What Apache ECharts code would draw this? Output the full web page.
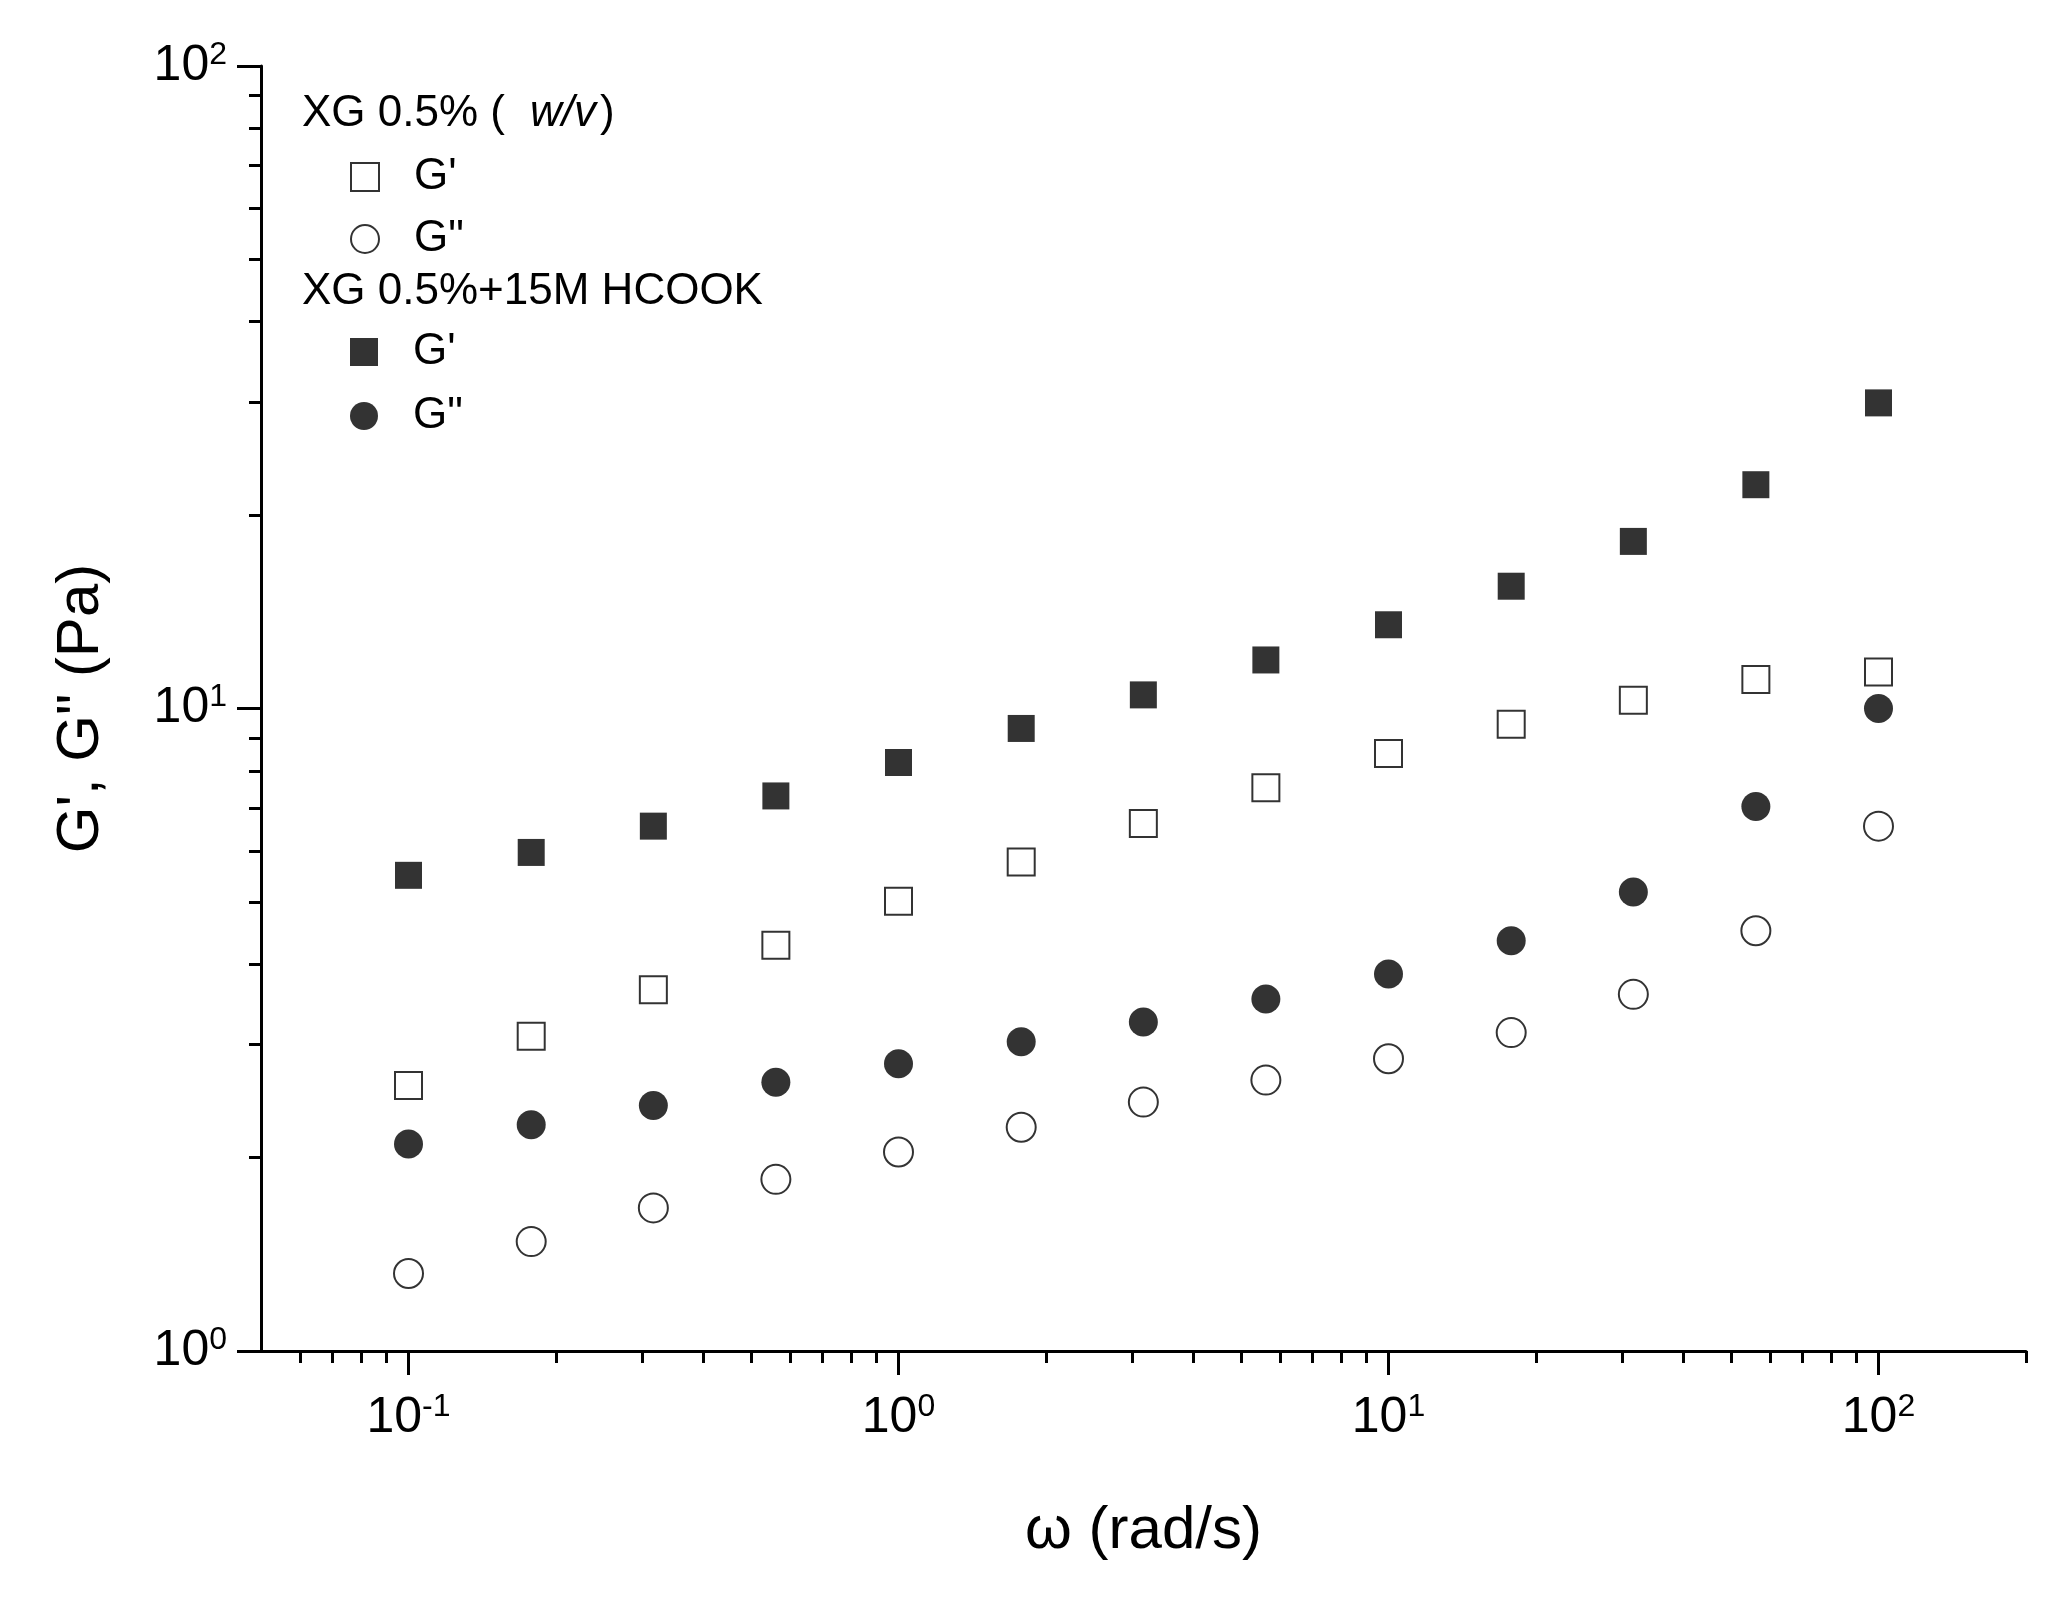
<!DOCTYPE html>
<html>
<head>
<meta charset="UTF-8">
<title></title>
<script src="https://cdn.jsdelivr.net/npm/echarts@6/dist/echarts.min.js"></script>
<style>html,body{margin:0;background:#fff}#main{width:2068px;height:1612px}</style>
</head>
<body>
<div id="main"></div>
<script type="text/javascript">
var omega = [0.1, 0.178, 0.316, 0.562, 1, 1.78, 3.16, 5.62, 10, 17.8, 31.6, 56.2, 100];
var xgG1 = [2.59, 3.09, 3.65, 4.28, 5.01, 5.77, 6.62, 7.53, 8.51, 9.45, 10.3, 11.1, 11.4];
var xgG2 = [1.32, 1.48, 1.67, 1.85, 2.04, 2.23, 2.44, 2.64, 2.85, 3.13, 3.59, 4.51, 6.56];
var saltG1 = [5.5, 5.97, 6.56, 7.31, 8.24, 9.31, 10.5, 11.9, 13.5, 15.5, 18.2, 22.3, 29.9];
var saltG2 = [2.10, 2.25, 2.41, 2.62, 2.80, 3.03, 3.25, 3.53, 3.86, 4.35, 5.18, 7.04, 10.0];
var xMajor = [0.1, 1, 10, 100];
var xMinor = [0.06,0.07,0.08,0.09,0.2,0.3,0.4,0.5,0.6,0.7,0.8,0.9,2,3,4,5,6,7,8,9,20,30,40,50,60,70,80,90,200];
var yMajor = [1, 10, 100];
var yMinor = [2,3,4,5,6,7,8,9,20,30,40,50,60,70,80,90];

function pairs(ys) { return omega.map(function (x, i) { return [x, ys[i]]; }); }
function expLabel(v) { return '10{sup|' + Math.round(Math.log10(v)) + '}'; }
var lblRich = { sup: { fontSize: 32, fontFamily: 'Liberation Sans', color: '#000', verticalAlign: 'top', padding: [0, 0, 22, 0] } };
var font = 'Liberation Sans';

var myChart = echarts.init(document.getElementById('main'));
var hollow = { color: '#fff', borderColor: '#000', borderWidth: 2 };
var solid = { color: '#000' };
function legendAt(name, top, textTop) {
    return {
        data: [name], left: 345, top: top, orient: 'vertical', itemWidth: 28, itemHeight: 28, itemGap: 10,
        textStyle: { fontSize: 44, fontFamily: font, color: '#000', padding: [0, 0, 0, 30] }
    };
}
myChart.setOption({
    animation: false,
    grid: { left: 261, right: 42, top: 66, bottom: 261 },
    legend: [
        legendAt('XG G\'', 150),
        legendAt('XG G"', 212),
        legendAt('HCOOK G\'', 325),
        legendAt('HCOOK G"', 389)
    ],
    graphic: [
        { type: 'text', left: 302, top: 92, style: { text: 'XG 0.5% (', font: '44px "Liberation Sans"', fill: '#000' } },
        { type: 'text', left: 530, top: 92, style: { text: 'w/v', font: 'italic 44px "Liberation Sans"', fill: '#000' } },
        { type: 'text', left: 600, top: 92, style: { text: ')', font: '44px "Liberation Sans"', fill: '#000' } },
        { type: 'text', left: 302, top: 270, style: { text: 'XG 0.5%+15M HCOOK', font: '44px "Liberation Sans"', fill: '#000' } }
    ],
    xAxis: [{
        type: 'log', logBase: 10, min: 0.05, max: 200,
        name: 'ω (rad/s)', nameLocation: 'middle', nameGap: 150,
        nameTextStyle: { fontSize: 60, fontFamily: font, color: '#000' },
        axisLine: { lineStyle: { color: '#000', width: 3 } },
        axisTick: { length: 24, lineStyle: { color: '#000', width: 3 }, customValues: xMajor },
        axisLabel: { customValues: xMajor, formatter: expLabel, fontSize: 50, fontFamily: font, color: '#000', margin: 40, rich: lblRich },
        splitLine: { show: false }
    }, {
        type: 'log', logBase: 10, min: 0.05, max: 200, position: 'bottom', gridIndex: 0,
        axisLine: { show: false },
        axisTick: { length: 12, lineStyle: { color: '#000', width: 3 }, customValues: xMinor },
        axisLabel: { show: false }, splitLine: { show: false }
    }],
    yAxis: [{
        type: 'log', logBase: 10, min: 1, max: 100,
        name: 'G\', G" (Pa)', nameLocation: 'middle', nameGap: 150,
        nameTextStyle: { fontSize: 60, fontFamily: font, color: '#000' },
        axisLine: { lineStyle: { color: '#000', width: 3 } },
        axisTick: { length: 24, lineStyle: { color: '#000', width: 3 }, customValues: yMajor },
        axisLabel: { customValues: yMajor, formatter: expLabel, fontSize: 50, fontFamily: font, color: '#000', margin: 34, rich: lblRich },
        splitLine: { show: false }
    }, {
        type: 'log', logBase: 10, min: 1, max: 100, position: 'left',
        axisLine: { show: false },
        axisTick: { length: 12, lineStyle: { color: '#000', width: 3 }, customValues: yMinor },
        axisLabel: { show: false }, splitLine: { show: false }
    }],
    series: [
        { name: 'XG G\'', type: 'scatter', symbol: 'rect', symbolSize: 27, itemStyle: hollow, data: pairs(xgG1) },
        { name: 'XG G"', type: 'scatter', symbol: 'circle', symbolSize: 29, itemStyle: hollow, data: pairs(xgG2) },
        { name: 'HCOOK G\'', type: 'scatter', symbol: 'rect', symbolSize: 27, itemStyle: solid, data: pairs(saltG1) },
        { name: 'HCOOK G"', type: 'scatter', symbol: 'circle', symbolSize: 29, itemStyle: solid, data: pairs(saltG2) }
    ]
});
// legend shows only G' / G"
myChart.setOption({
    legend: [0, 1, 2, 3].map(function (i) {
        return { formatter: function (n) { return n.indexOf('"') >= 0 ? 'G"' : 'G\''; } };
    })
});
</script>
</body>
</html>
